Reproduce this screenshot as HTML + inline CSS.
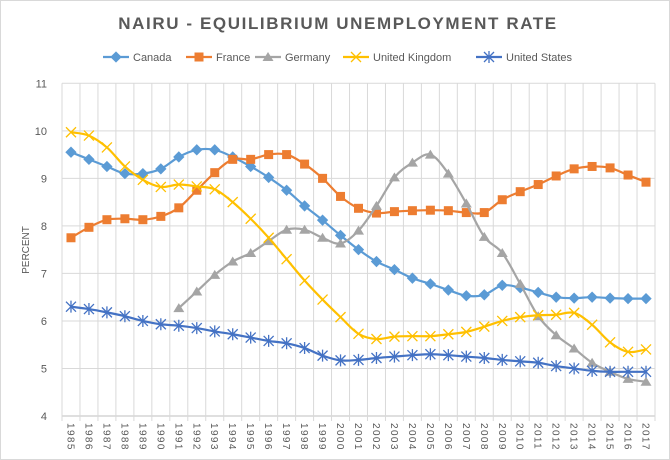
<!DOCTYPE html>
<html><head><meta charset="utf-8"><style>
body{margin:0;background:#fff}
svg{display:block;font-family:"Liberation Sans",sans-serif}
</style></head><body>
<svg id="c" width="670" height="460" xmlns="http://www.w3.org/2000/svg">
<rect x="0.5" y="0.5" width="669" height="459" fill="#fff" stroke="#d9d9d9"/>
<text x="338" y="29" text-anchor="middle" font-size="17" font-weight="bold" fill="#595959" letter-spacing="1.6">NAIRU - EQUILIBRIUM UNEMPLOYMENT RATE</text>
<g id="g"></g>
<text transform="translate(29,250) rotate(-90)" text-anchor="middle" font-size="10" fill="#595959">PERCENT</text>
</svg>
<script>
const g=document.getElementById('g');
const L=62,R=655,T=83.3,B=416,cw=(R-L)/33;
const X=i=>L+cw/2+i*cw, Y=v=>B-(v-4)*(B-T)/7;
let h='';
for(let v=4;v<=11;v++){h+=`<line x1="${L}" x2="${R}" y1="${Y(v)}" y2="${Y(v)}" stroke="${v==4?'#bfbfbf':'#d9d9d9'}"/>`;
h+=`<text x="47" y="${Y(v)+4}" text-anchor="end" font-size="11" fill="#595959">${v}</text>`;}
for(let i=0;i<=33;i++){const x=L+i*cw;h+=`<line x1="${x}" x2="${x}" y1="${T}" y2="${B+5}" stroke="#d9d9d9"/>`;}
for(let i=0;i<33;i++){h+=`<text transform="translate(${X(i)-3.5},423) rotate(90)" font-size="10" letter-spacing="1.4" fill="#595959">${1985+i}</text>`;}
const S=[
['Canada','#5B9BD5','d',0,[9.55,9.4,9.25,9.1,9.1,9.2,9.45,9.6,9.6,9.45,9.25,9.02,8.75,8.42,8.12,7.8,7.5,7.25,7.08,6.9,6.78,6.65,6.53,6.55,6.75,6.7,6.6,6.5,6.48,6.5,6.48,6.47,6.47]],
['France','#ED7D31','s',0,[7.75,7.97,8.13,8.15,8.13,8.2,8.38,8.75,9.12,9.4,9.4,9.5,9.5,9.3,9.0,8.62,8.37,8.27,8.3,8.32,8.33,8.32,8.28,8.28,8.55,8.72,8.87,9.05,9.2,9.25,9.22,9.07,8.92]],
['Germany','#A5A5A5','t',6,[6.27,6.62,6.97,7.25,7.43,7.68,7.92,7.92,7.75,7.63,7.9,8.42,9.02,9.33,9.5,9.1,8.47,7.77,7.43,6.78,6.1,5.7,5.42,5.12,4.93,4.78,4.72]],
['United Kingdom','#FFC000','x',0,[9.97,9.9,9.65,9.25,8.97,8.82,8.87,8.83,8.77,8.5,8.15,7.75,7.3,6.85,6.45,6.08,5.73,5.62,5.67,5.68,5.68,5.72,5.77,5.88,6.0,6.08,6.12,6.13,6.17,5.92,5.55,5.35,5.4]],
['United States','#4472C4','a',0,[6.3,6.25,6.18,6.1,6.0,5.93,5.9,5.85,5.78,5.72,5.65,5.58,5.53,5.43,5.27,5.17,5.18,5.22,5.25,5.28,5.3,5.28,5.25,5.22,5.18,5.15,5.12,5.05,5.0,4.95,4.93,4.93,4.93]]];
function mk(t,x,y,c){
 if(t=='d')return `<rect x="${x-4}" y="${y-4}" width="8" height="8" fill="${c}" transform="rotate(45 ${x} ${y})"/>`;
 if(t=='s')return `<rect x="${x-4.5}" y="${y-4.5}" width="9" height="9" fill="${c}"/>`;
 if(t=='t')return `<polygon points="${x},${y-5} ${x+5.5},${y+4} ${x-5.5},${y+4}" fill="${c}"/>`;
 if(t=='x')return `<path d="M${x-5} ${y-5}L${x+5} ${y+5}M${x-5} ${y+5}L${x+5} ${y-5}" stroke="${c}" stroke-width="1.3"/>`;
 return `<path d="M${x-5} ${y-5}L${x+5} ${y+5}M${x-5} ${y+5}L${x+5} ${y-5}M${x} ${y-6}V${y+6}" stroke="${c}" stroke-width="1.3"/>`;
}
S.forEach(s=>{
 const p=s[4].map((v,k)=>[X(k+s[3]),Y(v)]);
 let d=`M${p[0][0]} ${p[0][1]}`;
 for(let k=0;k<p.length-1;k++){const p0=p[k-1]||p[k],p1=p[k],p2=p[k+1],p3=p[k+2]||p2;
  d+=`C${p1[0]+(p2[0]-p0[0])/6} ${p1[1]+(p2[1]-p0[1])/6} ${p2[0]-(p3[0]-p1[0])/6} ${p2[1]-(p3[1]-p1[1])/6} ${p2[0]} ${p2[1]}`;}
 h+=`<path d="${d}" fill="none" stroke="${s[1]}" stroke-width="2.2"/>`;
 p.forEach(q=>h+=mk(s[2],q[0],q[1],s[1]));
});
const lx=[103,186,255,343,476];
S.forEach((s,k)=>{const x=lx[k];h+=`<line x1="${x}" x2="${x+26}" y1="57" y2="57" stroke="${s[1]}" stroke-width="2.2"/>`+mk(s[2],x+13,57,s[1]);
 h+=`<text x="${x+30}" y="61" font-size="11" fill="#595959">${s[0]}</text>`;});
g.innerHTML=h;
</script>
</body></html>
